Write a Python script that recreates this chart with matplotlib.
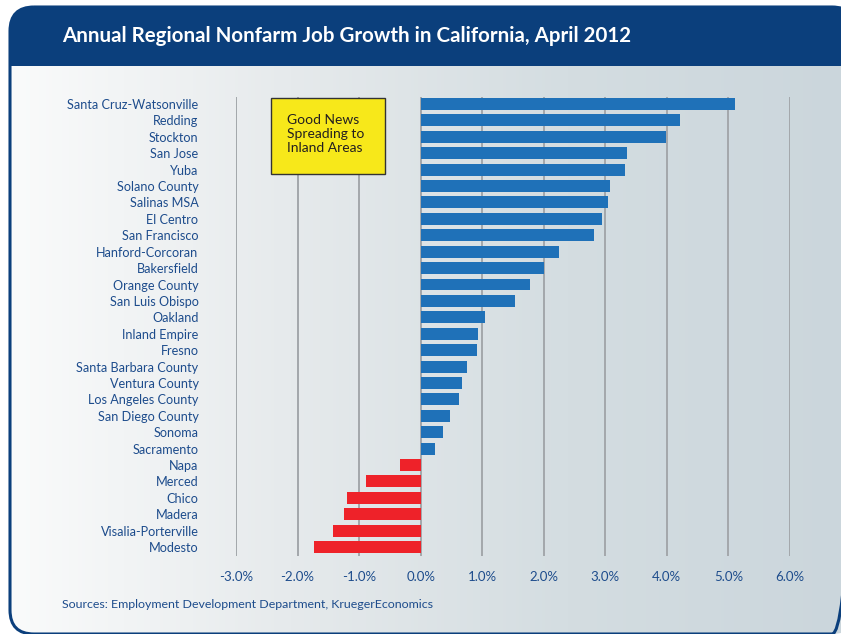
import numpy as np
import matplotlib
matplotlib.use("Agg")
import matplotlib.pyplot as plt
from matplotlib.patches import FancyBboxPatch, Rectangle
from matplotlib.colors import LinearSegmentedColormap

plt.rcParams['font.family'] = ['Lato', 'DejaVu Sans']

regions = ["Santa Cruz-Watsonville", "Redding", "Stockton", "San Jose", "Yuba",
           "Solano County", "Salinas MSA", "El Centro", "San Francisco",
           "Hanford-Corcoran", "Bakersfield", "Orange County", "San Luis Obispo",
           "Oakland", "Inland Empire", "Fresno", "Santa Barbara County",
           "Ventura County", "Los Angeles County", "San Diego County", "Sonoma",
           "Sacramento", "Napa", "Merced", "Chico", "Madera",
           "Visalia-Porterville", "Modesto"]
growth = [5.11, 4.22, 3.99, 3.36, 3.32, 3.08, 3.05, 2.94, 2.82, 2.25, 2.01,
          1.78, 1.54, 1.04, 0.93, 0.91, 0.75, 0.67, 0.62, 0.47, 0.36, 0.24,
          -0.34, -0.89, -1.19, -1.25, -1.43, -1.74]
xticks = [-3, -2, -1, 0, 1, 2, 3, 4, 5, 6]
xtick_labels = ["-3.0%", "-2.0%", "-1.0%", "0.0%", "1.0%", "2.0%", "3.0%",
                "4.0%", "5.0%", "6.0%"]

title = "Annual Regional Nonfarm Job Growth in California, April 2012"
source = "Sources: Employment Development Department, KruegerEconomics"
note = "Good News\nSpreading to\nInland Areas"

W, H = 841, 634
fig = plt.figure(figsize=(W / 100, H / 100), dpi=100)
fig.patch.set_facecolor("white")

navy = "#0b3f7c"
text_blue = "#1d4c8c"

# background axes in pixel coords
bg = fig.add_axes([0, 0, 1, 1], zorder=0)
bg.set_xlim(0, W)
bg.set_ylim(H, 0)
bg.axis("off")

r = 24
bx0, by0, bx1, by1 = 10, 7, 856, 634
box = FancyBboxPatch((bx0 + r, by0 + r), (bx1 - bx0) - 2 * r, (by1 - by0) - 2 * r,
                     boxstyle=f"round,pad={r}", facecolor="none",
                     edgecolor=navy, linewidth=2.2, zorder=3)
bg.add_patch(box)
cmap = LinearSegmentedColormap.from_list("g", ["#fafbfb", "#e6eaec", "#d4dde1", "#cbd6dc"])
grad = np.linspace(0, 1, 256).reshape(1, -1)
im = bg.imshow(grad, cmap=cmap, extent=[10, 845, 640, 60], aspect="auto", zorder=1)
im.set_clip_path(box)
hdr = Rectangle((0, 0), W + 20, 66, facecolor=navy, edgecolor="none", zorder=2)
bg.add_patch(hdr)
hdr.set_clip_path(box)
bg.set_xlim(0, W)
bg.set_ylim(H, 0)

bg.text(62, 36, title, color="white", fontsize=14.8, fontweight="bold",
        va="center", ha="left", zorder=4)
bg.text(62, 604, source, color=text_blue, fontsize=8.9, va="center", ha="left", zorder=4)

# main axes
left, right, top, bottom = 236, 790, 97, 556
ax = fig.add_axes([left / W, 1 - bottom / H, (right - left) / W, (bottom - top) / H], zorder=2)
ax.patch.set_alpha(0)
y = np.arange(len(regions))
colors = ["#1f71b8" if v >= 0 else "#ee2229" for v in growth]
ax.barh(y, growth, height=0.73, color=colors, zorder=3)
ax.set_xlim(-3, 6)
ax.set_ylim(27.55, -0.43)
ax.set_xticks(xticks)
ax.set_xticklabels(xtick_labels)
ax.set_yticks(y)
ax.set_yticklabels(regions)
ax.tick_params(axis="both", length=0, colors=text_blue, labelsize=9.5)
ax.tick_params(axis="y", labelsize=9.1)
ax.tick_params(axis="x", pad=11)
ax.tick_params(axis="y", pad=27)
for lab in ax.get_yticklabels():
    lab.set_color(text_blue)
for lab in ax.get_xticklabels():
    lab.set_color(text_blue)
ax.grid(axis="x", color="#a3a7ab", linewidth=1.4, zorder=1)
ax.grid(axis="y", visible=False)
for s in ax.spines.values():
    s.set_visible(False)

# overlay for note box
ov = fig.add_axes([0, 0, 1, 1], zorder=5)
ov.set_xlim(0, W)
ov.set_ylim(H, 0)
ov.axis("off")
ov.patch.set_alpha(0)
ov.add_patch(Rectangle((271, 98), 114, 76, facecolor="#f7e81a", edgecolor="#333333",
                       linewidth=1.0))
ov.text(287, 134, note, fontsize=10, color="#231f20", va="center", ha="left",
        linespacing=1.25)

fig.savefig("out.png", dpi=100)
